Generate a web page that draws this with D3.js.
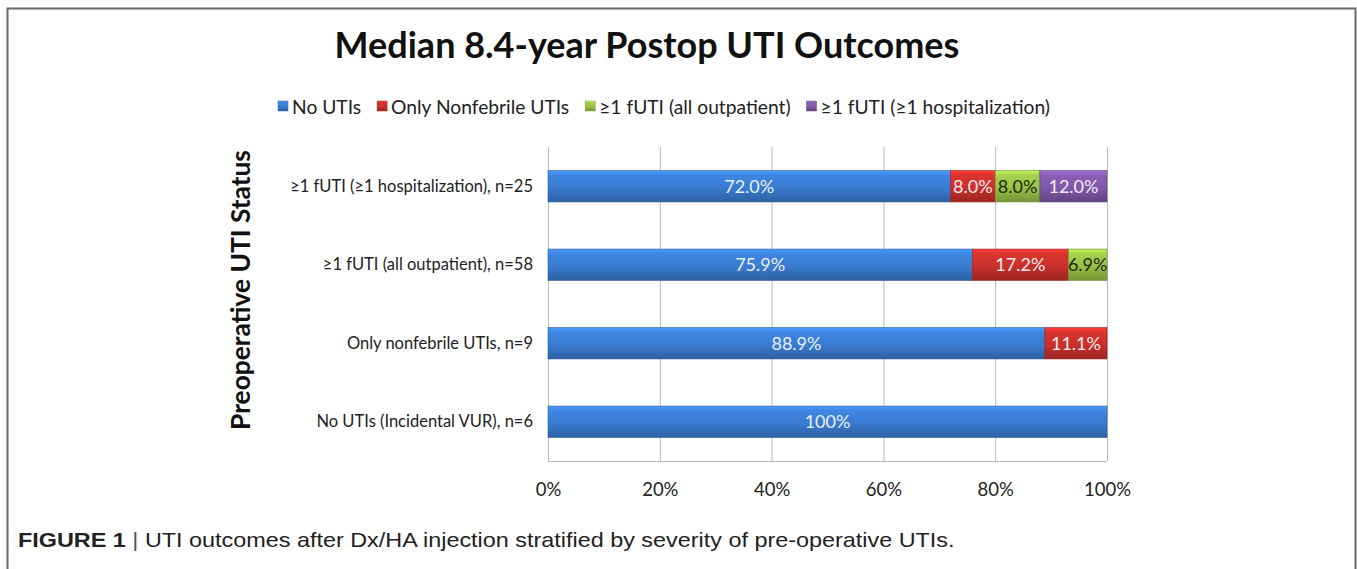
<!DOCTYPE html>
<html>
<head>
<meta charset="utf-8">
<script src="https://cdn.jsdelivr.net/npm/d3@7"></script>
<style>
  body { margin: 0; background: #fff; }
  svg { display: block; }
</style>
</head>
<body>
<script>
// chart data
var categories = [
  "≥1 fUTI (≥1 hospitalization), n=25",
  "≥1 fUTI (all outpatient), n=58",
  "Only nonfebrile UTIs, n=9",
  "No UTIs (Incidental VUR), n=6"
];
var seriesNames = ["No UTIs", "Only Nonfebrile UTIs", "≥1 fUTI (all outpatient)", "≥1 fUTI (≥1 hospitalization)"];
var noUtis       = [72.0, 75.9, 88.9, 100];
var nonfebrile   = [8.0, 17.2, 11.1, 0];
var fUtiOutpt    = [8.0, 6.9, 0, 0];
var fUtiHosp     = [12.0, 0, 0, 0];
var valueLabels  = [
  ["72.0%", "8.0%", "8.0%", "12.0%"],
  ["75.9%", "17.2%", "6.9%", ""],
  ["88.9%", "11.1%", "", ""],
  ["100%", "", "", ""]
];
var xTicks = [0, 20, 40, 60, 80, 100];

var w = 1357, h = 569;
var plotLeft = 548, plotRight = 1107, plotTop = 147, plotBottom = 461;
var colors = ["#3a7bd0", "#c8302c", "#98c046", "#7f57a8"];
var textColors = ["#e9f0fa", "#fbeaea", "#1d2a0c", "#f2ecf8"];
var font = "Lato, 'Open Sans', sans-serif";

// shrink/grow font size so a text reaches a target width
function fitWidth(sel, target) {
  var size = parseFloat(sel.attr("font-size"));
  var len = sel.node().getComputedTextLength();
  sel.attr("font-size", (size * target / len).toFixed(2) + "px");
}

var svg = d3.select("body").append("svg")
    .attr("width", w)
    .attr("height", h);

// bevel-ish gradients like the office chart
var defs = svg.append("defs");
colors.forEach(function(c, i) {
  var g = defs.append("linearGradient")
      .attr("id", "grad" + i)
      .attr("x1", 0).attr("y1", 0).attr("x2", 0).attr("y2", 1);
  g.append("stop").attr("offset", "0%").attr("stop-color", d3.color(c).brighter(0.7));
  g.append("stop").attr("offset", "15%").attr("stop-color", d3.color(c).brighter(0.25));
  g.append("stop").attr("offset", "55%").attr("stop-color", c);
  g.append("stop").attr("offset", "100%").attr("stop-color", d3.color(c).darker(0.7));
});

// outer frame
svg.append("path")
    .attr("d", "M7.5," + h + "V8.5H1355.5V" + h)
    .attr("fill", "none")
    .attr("stroke", "#6b6b6b")
    .attr("stroke-width", 2);

var xScale = d3.scaleLinear().domain([0, 100]).range([plotLeft, plotRight]);
var yScale = d3.scaleBand().domain(categories).range([plotTop, plotBottom]).paddingInner(0.6).paddingOuter(0.3);

// gridlines
svg.append("g")
    .selectAll("line")
    .data(xTicks)
    .enter()
    .append("line")
    .attr("x1", function(d) { return xScale(d) + 0.5; })
    .attr("x2", function(d) { return xScale(d) + 0.5; })
    .attr("y1", plotTop)
    .attr("y2", plotBottom)
    .attr("stroke", "#b9b9b9");

svg.append("line")
    .attr("x1", plotLeft).attr("x2", plotRight)
    .attr("y1", plotBottom + 0.5).attr("y2", plotBottom + 0.5)
    .attr("stroke", "#b9b9b9");

// stacked bars
var rows = categories.map(function(c, i) {
  return { cat: c, vals: [noUtis[i], nonfebrile[i], fUtiOutpt[i], fUtiHosp[i]], labels: valueLabels[i] };
});

var rowG = svg.selectAll(".row")
    .data(rows)
    .enter()
    .append("g")
    .attr("class", "row");

rowG.each(function(r) {
  var g = d3.select(this);
  var start = 0;
  r.vals.forEach(function(v, k) {
    if (v <= 0) return;
    var x0 = xScale(start), x1 = xScale(start + v);
    g.append("rect")
        .attr("x", x0)
        .attr("y", yScale(r.cat))
        .attr("width", x1 - x0)
        .attr("height", yScale.bandwidth())
        .attr("fill", "url(#grad" + k + ")")
        .attr("stroke", d3.color(colors[k]).darker(0.8))
        .attr("stroke-width", 0.6);
    g.append("text")
        .attr("x", (x0 + x1) / 2)
        .attr("y", yScale(r.cat) + yScale.bandwidth() / 2)
        .attr("dy", "0.36em")
        .attr("text-anchor", "middle")
        .attr("font-family", font)
        .attr("font-size", "18px")
        .attr("fill", textColors[k])
        .text(r.labels[k]);
    start += v;
  });
});

// category labels
var yAxis = d3.axisLeft(yScale).tickSize(0).tickPadding(15);
var yG = svg.append("g")
    .attr("transform", "translate(" + plotLeft + ",0)")
    .call(yAxis);
yG.select(".domain").remove();
yG.selectAll("text")
    .attr("font-family", font)
    .attr("font-size", "16px")
    .attr("fill", "#222");
var longest = yG.selectAll("text").filter(function(d, i) { return i === 0; });
fitWidth(longest, 243);
yG.selectAll("text").attr("font-size", longest.attr("font-size"));

// x tick labels
var xAxis = d3.axisBottom(xScale)
    .tickValues(xTicks)
    .tickSize(0)
    .tickPadding(22)
    .tickFormat(function(d) { return d + "%"; });
var xG = svg.append("g")
    .attr("transform", "translate(0," + plotBottom + ")")
    .call(xAxis);
xG.select(".domain").remove();
xG.selectAll("text")
    .attr("font-family", font)
    .attr("font-size", "18.5px")
    .attr("fill", "#222");

// title
var title = svg.append("text")
    .attr("x", 647)
    .attr("y", 58)
    .attr("text-anchor", "middle")
    .attr("font-family", font)
    .attr("font-weight", "bold")
    .attr("font-size", "33px")
    .attr("fill", "#111")
    .text("Median 8.4-year Postop UTI Outcomes");
fitWidth(title, 625);

// y axis title
var yTitle = svg.append("text")
    .attr("transform", "translate(250,290) rotate(-90)")
    .attr("text-anchor", "middle")
    .attr("font-family", font)
    .attr("font-weight", "bold")
    .attr("font-size", "23px")
    .attr("fill", "#111")
    .text("Preoperative UTI Status");
fitWidth(yTitle, 280);

// legend
var legend = svg.append("g").attr("transform", "translate(278,107)");
var legendSize = 18;
function drawLegend(size) {
  legend.selectAll("*").remove();
  var lx = 0;
  seriesNames.forEach(function(name, i) {
    legend.append("rect")
        .attr("x", lx)
        .attr("y", -6)
        .attr("width", 10)
        .attr("height", 10)
        .attr("fill", "url(#grad" + i + ")")
        .attr("stroke", d3.color(colors[i]).darker(0.5))
        .attr("stroke-width", 0.5);
    var t = legend.append("text")
        .attr("x", lx + 14)
        .attr("y", 0)
        .attr("dy", "0.35em")
        .attr("font-family", font)
        .attr("font-size", size + "px")
        .attr("fill", "#222")
        .text(name);
    lx += 14 + t.node().getComputedTextLength() + (i < seriesNames.length - 1 ? 16 : 0);
  });
  return lx;
}
var legendW = drawLegend(legendSize);
drawLegend(legendSize * (814 - 3 * 30 - 4 * 14) / (legendW - 3 * 16 - 4 * 14) * 1.0);

// caption
var cap = svg.append("text")
    .attr("x", 0)
    .attr("y", 0)
    .attr("font-family", "'Liberation Sans', Arial, sans-serif")
    .attr("font-size", "20px")
    .attr("fill", "#222");
cap.append("tspan").attr("font-weight", "bold").text("FIGURE 1");
cap.append("tspan").attr("fill", "#555").text(" | ");
cap.append("tspan").text("UTI outcomes after Dx/HA injection stratified by severity of pre-operative UTIs.");
var capLen = cap.node().getComputedTextLength();
cap.attr("transform", "translate(18,547) scale(" + (937 / capLen).toFixed(3) + ",1)");
</script>
</body>
</html>
